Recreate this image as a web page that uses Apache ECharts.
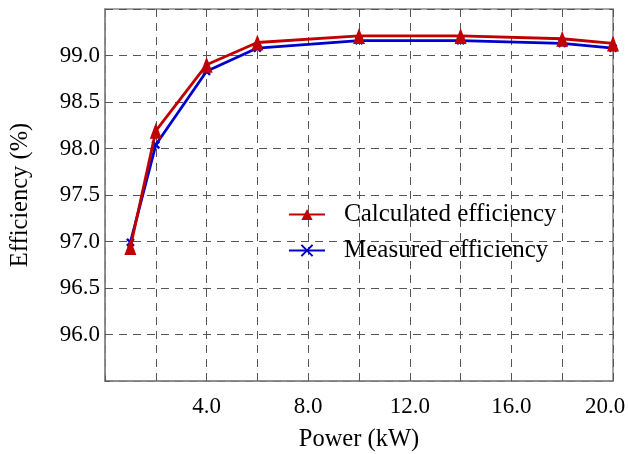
<!DOCTYPE html>
<html>
<head>
<meta charset="utf-8">
<script src="https://cdn.jsdelivr.net/npm/echarts@6/dist/echarts.min.js"></script>
<style>html,body{margin:0;padding:0;background:#fff;}#c{width:628px;height:454px;}</style>
</head>
<body>
<div id="c"></div>
<script>
const power = [1, 2, 4, 6, 10, 14, 18, 20];
const calculated = [96.94, 98.19, 98.90, 99.14, 99.21, 99.21, 99.18, 99.13];
const measured = [96.99, 98.04, 98.83, 99.08, 99.16, 99.16, 99.13, 99.08];
const seriesNames = ['Calculated efficiency', 'Measured efficiency'];

const FONT = 'Liberation Serif';
const chart = echarts.init(document.getElementById('c'));
const pair = (xs, ys) => xs.map((x, i) => [x, ys[i]]);
const crossPath = 'path://M0,0L10,10M10,0L0,10';

chart.setOption({
  animation: false,
  backgroundColor: '#fff',
  textStyle: { fontFamily: FONT, color: '#000' },
  grid: { left: 105, right: 15, top: 9, bottom: 73, show: true, borderColor: '#888', borderWidth: 1.5, outerBoundsMode: 'none', containLabel: false },
  xAxis: {
    type: 'value', min: 0, max: 20, interval: 2,
    name: 'Power (kW)', nameLocation: 'middle', nameGap: 46,
    nameTextStyle: { fontFamily: FONT, fontSize: 24.5, color: '#000' },
    axisLine: { show: true, lineStyle: { color: '#888', width: 1.5 } },
    axisTick: { show: true, inside: true, length: 5, lineStyle: { color: '#555' } },
    axisLabel: {
      fontFamily: FONT, fontSize: 23, color: '#000', margin: 14,
      formatter: v => (v % 4 === 0 && v !== 0) ? (v === 20 ? '{e|' + v.toFixed(1) + '}' : v.toFixed(1)) : '',
      rich: { e: { fontFamily: FONT, fontSize: 23, color: '#000', padding: [0, 16, 0, 0] } }
    },
    splitLine: { show: true, lineStyle: { color: '#555', type: [8, 6], width: 1 } }
  },
  yAxis: {
    type: 'value', min: 95.5, max: 99.5, interval: 0.5,
    name: 'Efficiency (%)', nameLocation: 'middle', nameGap: 72,
    nameTextStyle: { fontFamily: FONT, fontSize: 24.5, color: '#000' },
    axisLine: { show: true, lineStyle: { color: '#888', width: 1.5 } },
    axisTick: { show: true, inside: true, length: 5, lineStyle: { color: '#555' } },
    axisLabel: {
      fontFamily: FONT, fontSize: 23, color: '#000', margin: 5,
      formatter: v => (v > 95.6 && v < 99.4) ? v.toFixed(1) : ''
    },
    splitLine: { show: true, lineStyle: { color: '#555', type: [8, 6], width: 1 } }
  },
  legend: {
    left: 283, top: 197, orient: 'vertical', itemWidth: 36, itemHeight: 14, itemGap: 11,
    textStyle: { fontFamily: FONT, fontSize: 25, color: '#000', padding: [0, 0, 0, 14] },
    data: seriesNames
  },
  series: [
    {
      name: seriesNames[0], type: 'line', data: pair(power, calculated),
      symbol: 'triangle', symbolSize: [12, 16], showSymbol: true,
      lineStyle: { color: '#c00000', width: 2.8 },
      itemStyle: { color: '#c00000' }, z: 3
    },
    {
      name: seriesNames[1], type: 'line', data: pair(power, measured),
      symbol: crossPath, symbolSize: 7, showSymbol: true,
      lineStyle: { color: '#0000cc', width: 2.8 },
      itemStyle: { color: '#0000cc', borderColor: '#0000cc', borderWidth: 2.5 }, z: 2
    }
  ]
});
</script>
</body>
</html>
